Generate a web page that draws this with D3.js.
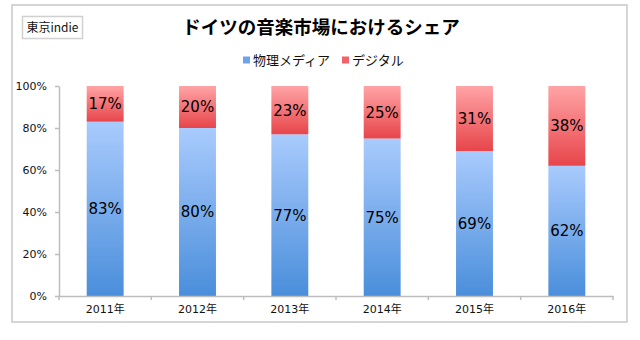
<!DOCTYPE html>
<html><head><meta charset="utf-8">
<script src="https://cdn.jsdelivr.net/npm/d3@7"></script>
<style>body{margin:0;background:#fff}svg{display:block}</style>
</head><body>
<script>
const years = ["2011年","2012年","2013年","2014年","2015年","2016年"];
const physical = [83,80,77,75,69,62];
const digital = [17,20,23,25,31,38];
const seriesNames = ["物理メディア","デジタル"];
const yTicks = [0,20,40,60,80,100];

const W=640,H=340;
const svg=d3.select("body").append("svg").attr("width",W).attr("height",H);
const defs=svg.append("defs");
function grad(id,top,bot){
  const g=defs.append("linearGradient").attr("id",id).attr("x1",0).attr("y1",0).attr("x2",0).attr("y2",1);
  g.append("stop").attr("offset","0%").attr("stop-color",top);
  g.append("stop").attr("offset","100%").attr("stop-color",bot);
}
grad("gBlue","#a9cbfd","#4a8edb");
grad("gRed","#ffa4a6","#e7454a");

const num="'DejaVu Sans','Noto Sans CJK JP',sans-serif";
const jp="'Noto Sans CJK JP',sans-serif";

// frame
svg.append("rect").attr("x",12).attr("y",5).attr("width",615).attr("height",317)
  .attr("fill","#fff").attr("stroke","#c8c8c8").attr("stroke-width",1.5);
// badge
svg.append("rect").attr("x",22.5).attr("y",16.5).attr("width",60).attr("height",22)
  .attr("fill","#fff").attr("stroke","#d0d0d0").attr("stroke-width",1.5);
svg.append("text").attr("x",52.5).attr("y",32).attr("text-anchor","middle")
  .attr("font-family",jp).attr("font-size",12).attr("fill","#111").text("東京indie");
// title
svg.append("text").attr("x",321).attr("y",34).attr("text-anchor","middle")
  .attr("font-family",jp).attr("font-weight","bold").attr("font-size",18.5).attr("fill","#000")
  .text("ドイツの音楽市場におけるシェア");

const x=d3.scaleBand().domain(years).range([59,613]).paddingInner(0.6).paddingOuter(0.3);
const y=d3.scaleLinear().domain([0,100]).range([296,86]);

// legend
const leg=[{n:seriesNames[0],c:"#6da4e8",x:243},{n:seriesNames[1],c:"#f26368",x:342}];
leg.forEach(l=>{
  svg.append("rect").attr("x",l.x).attr("y",56.5).attr("width",7).attr("height",7).attr("fill",l.c);
  svg.append("text").attr("x",l.x+10).attr("y",65).attr("font-family",jp).attr("font-size",13).attr("fill","#111").text(l.n);
});

const data=years.map((yr,i)=>({yr,p:physical[i],d:digital[i]}));
const g=svg.append("g");
g.selectAll(".b").data(data).join("rect").attr("x",d=>x(d.yr)).attr("width",x.bandwidth())
  .attr("y",d=>y(d.p)).attr("height",d=>y(0)-y(d.p)).attr("fill","url(#gBlue)");
g.selectAll(".r").data(data).join("rect").attr("x",d=>x(d.yr)).attr("width",x.bandwidth())
  .attr("y",d=>y(d.p+d.d)).attr("height",d=>y(d.p)-y(d.p+d.d)).attr("fill","url(#gRed)");

g.selectAll(".lb").data(data).join("text").attr("x",d=>x(d.yr)+x.bandwidth()/2)
  .attr("y",d=>(y(0)+y(d.p))/2).attr("dy","0.36em").attr("text-anchor","middle")
  .attr("font-family",num).attr("font-size",15).attr("fill","#000").text(d=>d.p+"%");
g.selectAll(".lr").data(data).join("text").attr("x",d=>x(d.yr)+x.bandwidth()/2)
  .attr("y",d=>(y(d.p)+y(d.p+d.d))/2).attr("dy","0.36em").attr("text-anchor","middle")
  .attr("font-family",num).attr("font-size",15).attr("fill","#000").text(d=>d.d+"%");

// y axis
const ya=svg.append("g").attr("transform","translate(59,0)")
  .call(d3.axisLeft(y).tickValues(yTicks).tickFormat(d=>d+"%").tickSize(4).tickSizeOuter(0));
ya.selectAll("path,line").attr("stroke","#bdbdbd").attr("stroke-width",1.5);
ya.selectAll("text").attr("font-family",num).attr("font-size",11).attr("fill","#111").attr("x",-12);

// x axis
const xa=svg.append("g").attr("transform","translate(0,296)")
  .call(d3.axisBottom(x).tickSize(0).tickSizeOuter(0));
xa.select("path").attr("stroke","#bdbdbd").attr("stroke-width",1.5);
xa.selectAll("text").attr("font-family",num).attr("font-size",11).attr("fill","#111").attr("dy","1.3em");
// category boundary ticks
const bounds=years.map(yr=>x(yr)-x.step()*x.paddingInner()/2).concat([613]);
xa.selectAll(".bt").data(bounds).join("line").attr("x1",d=>d).attr("x2",d=>d).attr("y1",0).attr("y2",4)
  .attr("stroke","#bdbdbd").attr("stroke-width",1.5);
</script>
</body></html>
